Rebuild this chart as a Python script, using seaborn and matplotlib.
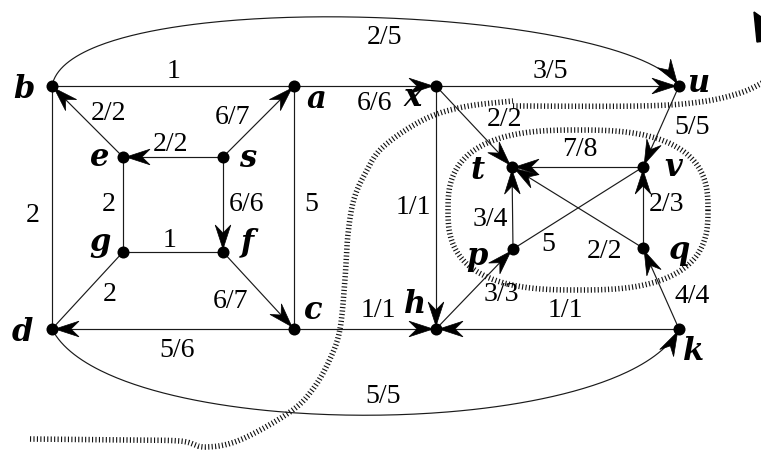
import numpy as np
import pandas as pd
import matplotlib
matplotlib.use("Agg")
import matplotlib.pyplot as plt
import seaborn as sns
from matplotlib.patches import Polygon

sns.set_theme(style="white")
plt.rcParams['font.family'] = ['Liberation Serif', 'DejaVu Serif']

# ---------------- data ----------------
node_names = ['b', 'a', 'x', 'u', 'e', 's', 't', 'v', 'g', 'f', 'p', 'q', 'd', 'c', 'h', 'k']
node_x = [52, 294, 436, 679, 123, 223, 512, 643, 123, 223, 513, 643, 52, 294, 436, 679]
node_y = [87, 87, 87, 87, 158, 158, 168, 168, 253, 253, 250, 249, 330, 330, 330, 330]
name_x = [24, 316, 413, 698, 100, 248, 478, 673, 100, 247, 477, 679, 22, 313, 415, 694]
name_y = [90, 100, 97, 83, 158, 159, 171, 168, 242, 243, 256, 251, 333, 311, 305, 352]

edge_src = ['b', 'a', 'x', 'e', 's', 's', 's', 'a', 'b', 'e', 'g', 'g', 'f', 'c', 'c',
            'x', 'x', 'u', 'v', 'p', 'q', 'v', 'q', 'h', 'k', 'k']
edge_dst = ['a', 'x', 'u', 'b', 'e', 'a', 'f', 'c', 'd', 'g', 'f', 'd', 'c', 'd', 'h',
            'h', 't', 'v', 't', 't', 'v', 'p', 't', 'p', 'h', 'q']
edge_text = ['1', '6/6', '3/5', '2/2', '2/2', '6/7', '6/6', '5', '2', '2', '1', '2', '6/7', '5/6', '1/1',
             '1/1', '2/2', '5/5', '7/8', '3/4', '2/3', '5', '2/2', '3/3', '1/1', '4/4']
edge_arrow = [False, True, True, True, True, True, True, False, False, False, False, False, True, True, True,
              True, True, True, True, True, True, False, True, True, True, True]
text_x = [174, 374, 550, 108, 170, 233, 247, 311, 33, 109, 170, 110, 230, 177, 378,
          413, 504, 692, 580, 490, 667, 548, 605, 501, 565, 692]
text_y = [72, 104, 72, 113, 145, 117, 205, 205, 216, 205, 241, 295, 302, 351, 311,
          208, 120, 127, 150, 220, 205, 245, 252, 295, 311, 297]

curve_src = ['b', 'd']
curve_dst = ['u', 'k']
curve_text = ['2/5', '5/5']
curve_c1 = [(70, -15), (110, 445)]
curve_c2 = [(625, 5), (620, 445)]
curve_text_x = [384, 383]
curve_text_y = [38, 397]

cut1_a = [(30, 440), (120, 441), (180, 442), (205, 448), (240, 441), (290, 413),
          (313, 390), (330, 360), (340, 330), (345, 280), (348, 235), (354, 200), (366, 173),
          (383, 148), (423, 121), (463, 108), (513, 102)]
cut1_b = [(513, 107), (640, 107), (700, 103), (740, 94), (764, 83)]
cut2_center = (578, 211)
cut2_axes = (130, 80)

# ---------------- figure ----------------
fig = plt.figure(figsize=(7.61, 4.52), dpi=100)
ax = fig.add_axes([0, 0, 1, 1])
pos = dict(zip(node_names, zip(node_x, node_y)))

LINE = dict(color='#1a1a1a', lw=0.85, zorder=2)
AL, AW, AN, TIP = 24.0, 7.8, 16.0, 3.0
EDGE_FS = 20


def arrowhead(tip, direction):
    d = np.asarray(direction, float)
    d = d / np.hypot(*d)
    n = np.array([-d[1], d[0]])
    T = np.asarray(tip, float) - TIP * d
    pts = [T, T - AL * d + AW * n, T - AN * d, T - AL * d - AW * n]
    ax.add_patch(Polygon(pts, closed=True, facecolor='black', edgecolor='black', lw=0.5, zorder=4))


for s, t, lab, arr, lx, ly in zip(edge_src, edge_dst, edge_text, edge_arrow, text_x, text_y):
    (x0, y0), (x1, y1) = pos[s], pos[t]
    ax.plot([x0, x1], [y0, y1], **LINE)
    if arr:
        arrowhead((x1, y1), (x1 - x0, y1 - y0))
    ax.text(lx, ly, lab, fontsize=EDGE_FS, ha='center', va='center', color='black', zorder=6)

tt = np.linspace(0, 1, 200)[:, None]
for s, t, c1, c2, lab, lx, ly in zip(curve_src, curve_dst, curve_c1, curve_c2,
                                     curve_text, curve_text_x, curve_text_y):
    P0, P3 = np.array(pos[s], float), np.array(pos[t], float)
    P1, P2 = np.array(c1, float), np.array(c2, float)
    B = (1 - tt) ** 3 * P0 + 3 * (1 - tt) ** 2 * tt * P1 + 3 * (1 - tt) * tt ** 2 * P2 + tt ** 3 * P3
    ax.plot(B[:, 0], B[:, 1], **LINE)
    arrowhead(P3, P3 - P2)
    ax.text(lx, ly, lab, fontsize=EDGE_FS, ha='center', va='center', color='black', zorder=6)


def catmull(points, n=24):
    P = np.array(points, float)
    P = np.vstack([P[0], P, P[-1]])
    out = []
    for i in range(1, len(P) - 2):
        p0, p1, p2, p3 = P[i - 1], P[i], P[i + 1], P[i + 2]
        for u in np.linspace(0, 1, n, endpoint=False):
            u2, u3 = u * u, u * u * u
            out.append(0.5 * (2 * p1 + (-p0 + p2) * u + (2 * p0 - 5 * p1 + 4 * p2 - p3) * u2
                              + (-p0 + 3 * p1 - 3 * p2 + p3) * u3))
    out.append(P[-2])
    return np.array(out)


CUT = dict(color='#111111', lw=4.0, linestyle=(0, (0.2, 0.42)), dash_capstyle='butt', zorder=1)
for piece in (cut1_a, cut1_b):
    C = catmull(piece)
    ax.plot(C[:, 0], C[:, 1], **CUT)

th = np.linspace(0, 2 * np.pi, 600)
ne = 2.7
cx = cut2_center[0] + cut2_axes[0] * np.sign(np.cos(th)) * np.abs(np.cos(th)) ** (2 / ne)
cy = cut2_center[1] + cut2_axes[1] * np.sign(np.sin(th)) * np.abs(np.sin(th)) ** (2 / ne)
ax.plot(cx, cy, **CUT)

# partial arrowhead at the top-right edge
ax.add_patch(Polygon([(754, 13), (764, 20), (764, 42), (757, 43)], closed=True,
                     facecolor='black', edgecolor='black', zorder=4))

nodes = pd.DataFrame({'name': node_names, 'x': node_x, 'y': node_y})
sns.scatterplot(data=nodes, x='x', y='y', s=75, color='black', edgecolor='black',
                linewidth=0, zorder=5, ax=ax, legend=False)

for nm, lx, ly in zip(node_names, name_x, name_y):
    ax.text(lx, ly, nm, fontsize=22, fontweight='bold', fontstyle='italic',
            family=['DejaVu Serif'], ha='center', va='center', color='black', zorder=6)

ax.set_xlim(0, 761)
ax.set_ylim(452, 0)
ax.axis('off')
fig.savefig('out.png', dpi=100, facecolor='white')
